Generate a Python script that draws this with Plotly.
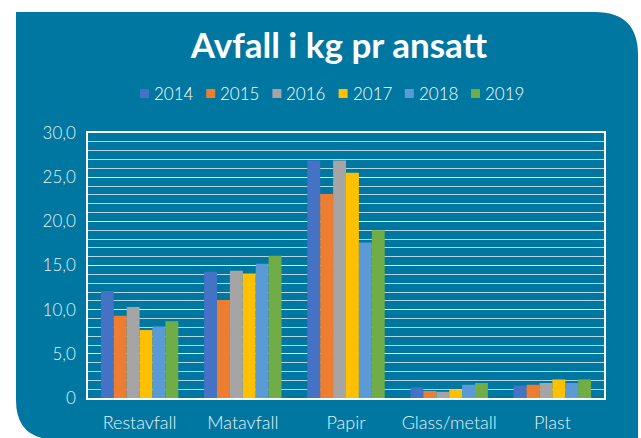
import plotly.graph_objects as go

categories = ["Restavfall", "Matavfall", "Papir", "Glass/metall", "Plast"]
years = ["2014", "2015", "2016", "2017", "2018", "2019"]
values = {
    "2014": [12.1, 14.3, 26.9, 1.2, 1.4],
    "2015": [9.3, 11.1, 23.1, 0.8, 1.5],
    "2016": [10.3, 14.4, 26.9, 0.7, 1.7],
    "2017": [7.7, 14.1, 25.5, 0.9, 2.1],
    "2018": [8.1, 15.2, 17.6, 1.5, 1.7],
    "2019": [8.7, 16.1, 19.0, 1.7, 2.1],
}
colors = ["#4472C4", "#ED7D31", "#A5A5A5", "#FFC000", "#5B9BD5", "#70AD47"]
ytick_vals = [0, 5, 10, 15, 20, 25, 30]
ytick_text = ["0", "5,0", "10,0", "15,0", "20,0", "25,0", "30,0"]

W, H = 641, 438
L, R, T, B = 88, 604, 133, 398
TEAL = "#0077A0"
FONT = "Lato"


def px(x):
    return (x - L) / (R - L)


def py(y):
    return (B - y) / (B - T)


fig = go.Figure()
for yr, c in zip(years, colors):
    fig.add_trace(go.Bar(name=yr, x=categories, y=values[yr], marker_color=c,
                         marker_line_width=0, showlegend=False))

path = (f"M {px(16)},{py(12)} L {px(595)},{py(12)} "
        f"Q {px(638)},{py(12)} {px(638)},{py(55)} "
        f"L {px(638)},{py(460)} L {px(56)},{py(460)} "
        f"L {px(56)},{py(439.5)} "
        f"Q {px(16)},{py(439.5)} {px(16)},{py(400)} Z")

shapes = [dict(type="path", path=path, xref="paper", yref="paper",
               fillcolor=TEAL, line=dict(width=0), layer="below")]
annotations = []
# legend: swatch + year label
for i, (yr, c) in enumerate(zip(years, colors)):
    tx = 154 + 66.2 * i
    shapes.append(dict(type="rect", xref="paper", yref="paper",
                       x0=px(tx - 14), x1=px(tx - 5), y0=py(98), y1=py(89),
                       fillcolor=c, line=dict(width=0), layer="above"))
    annotations.append(dict(text=yr, xref="paper", yref="paper", x=px(tx - 2),
                            y=py(93.5), xanchor="left", yanchor="middle",
                            showarrow=False,
                            font=dict(family=FONT, size=17, color="white", weight=300)))

fig.update_layout(
    width=W, height=H,
    margin=dict(l=L, r=W - R, t=T, b=H - B, pad=0, autoexpand=False),
    paper_bgcolor="white",
    plot_bgcolor="rgba(0,0,0,0)",
    shapes=shapes,
    annotations=annotations,
    barmode="group", bargap=0.25, bargroupgap=0,
    title=dict(text="Avfall i kg pr ansatt", x=339 / W, xref="container",
               xanchor="center", y=1 - 46 / H, yref="container", yanchor="middle",
               font=dict(family=FONT, size=35, color="white", weight="bold")),
    font=dict(family=FONT, color="white"),
    showlegend=False,
)
fig.update_xaxes(showline=True, linecolor="white", linewidth=2, mirror=True,
                 ticks="", tickfont=dict(family=FONT, size=18, color="#E8F2F7", weight=300),
                 ticklabelstandoff=7, showgrid=False, automargin=False)
fig.update_yaxes(range=[0, 30], tickvals=ytick_vals, ticktext=ytick_text,
                 showline=True, linecolor="white", linewidth=1.5, mirror=True,
                 ticks="", tickfont=dict(family=FONT, size=17, color="#E8F2F7", weight=300),
                 ticklabelstandoff=7, automargin=False,
                 showgrid=True, gridcolor="rgba(255,255,255,0.85)", gridwidth=1,
                 minor=dict(dtick=1, showgrid=True, gridcolor="rgba(255,255,255,0.7)",
                            gridwidth=1),
                 zeroline=False)

fig.write_html("out.html", config={"displayModeBar": False},
               post_script="document.body.style.margin='0';document.body.style.overflow='hidden';")
